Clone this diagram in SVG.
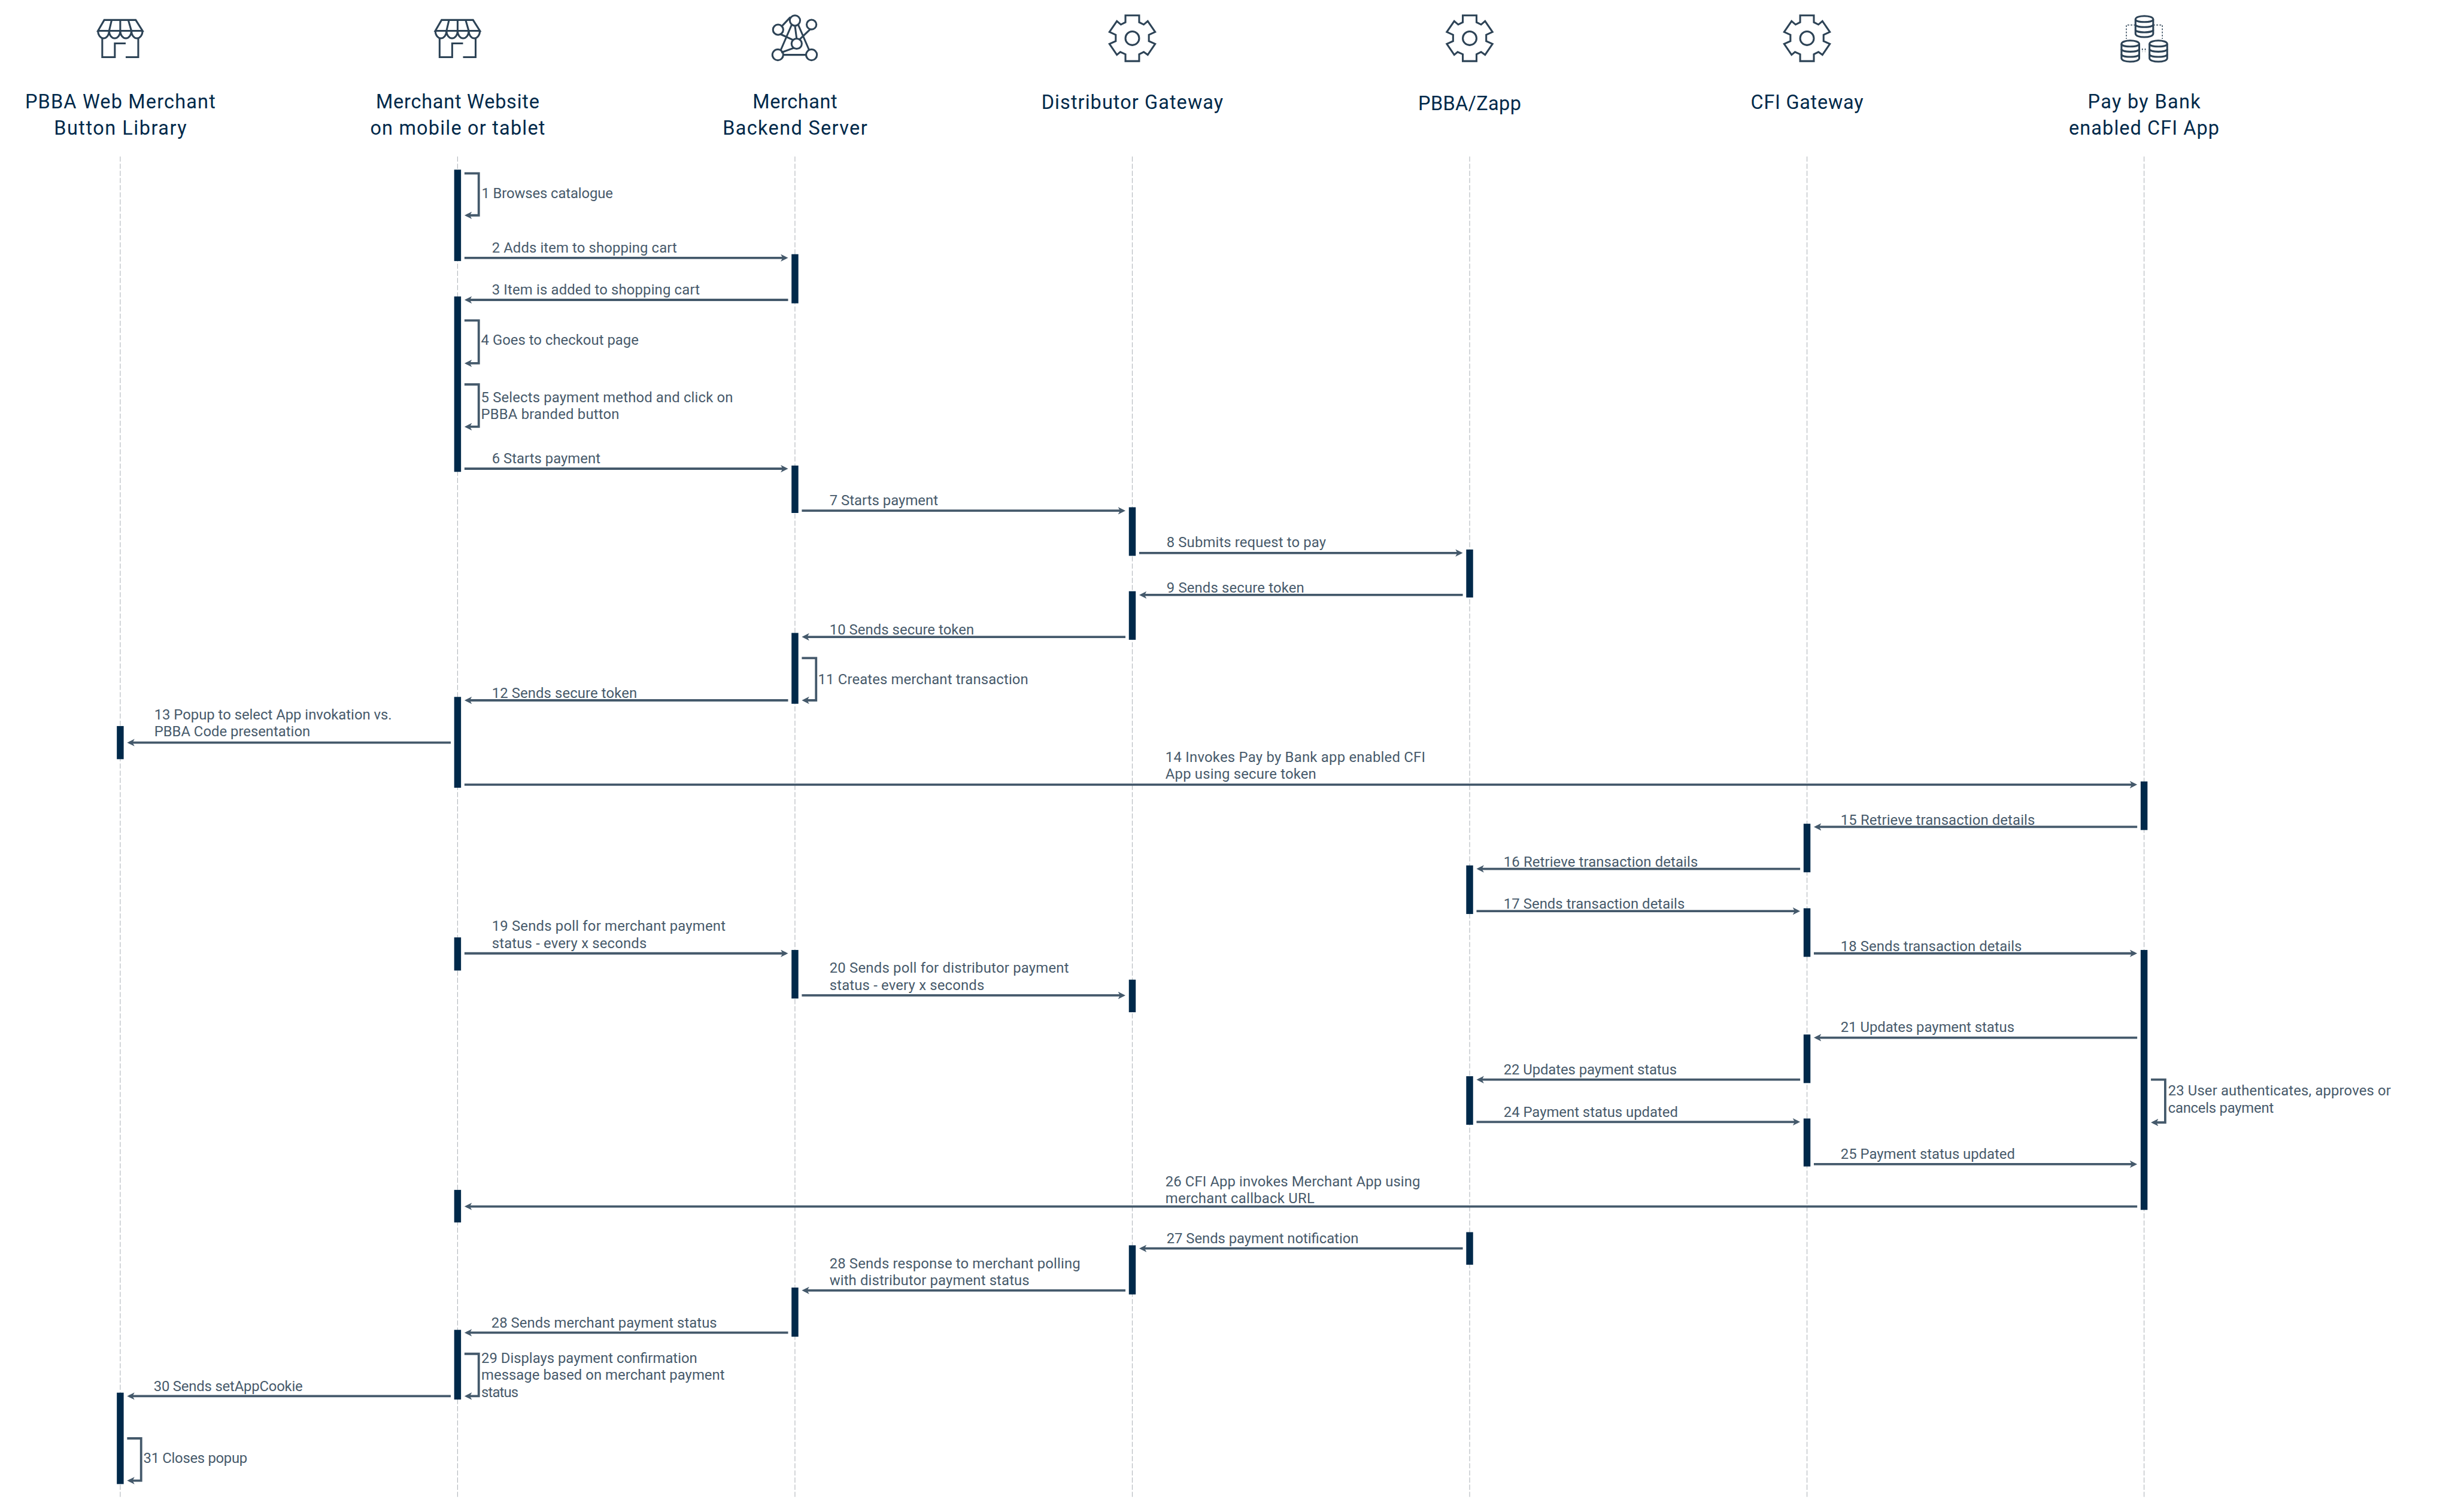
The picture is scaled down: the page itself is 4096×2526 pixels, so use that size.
<svg xmlns="http://www.w3.org/2000/svg" xmlns:xlink="http://www.w3.org/1999/xlink" width="4096" height="2526" viewBox="0 0 4096 2526">
<style>
.h{font-family:"Roboto","Liberation Sans",sans-serif;font-size:34px;fill:#00294a;text-anchor:middle}
.m{font-family:"Roboto","Liberation Sans",sans-serif;font-size:25px;fill:#475a6b}
.life{stroke:#b4b9be;stroke-width:1.2;stroke-dasharray:9 3.5;fill:none}
.bar{fill:#00294a}
.ln{stroke:#44596b;stroke-width:4;fill:none;marker-end:url(#ah)}
.ic{stroke:#2d4356;stroke-width:3.2;fill:none}
.dot{stroke:#2d4356;stroke-width:1.6;fill:none;stroke-dasharray:3 2.5}
</style>
<defs>
<marker id="ah" markerUnits="userSpaceOnUse" markerWidth="14" markerHeight="14" refX="9" refY="6.5" orient="auto"><path d="M0,0 L13,6.5 L0,13 L3.5,6.5 Z" fill="#44596b"/></marker>
<g id="store" class="ic"><path d="M-28,35 H27 L39,54 H-39 Z"/><path d="M-15,35 L-19.5,54 M0,35 V54 M14,35 L19.500,54"/><path d="M-39,54 a9.750,13 0 0 0 19.500,0 a9.750,13 0 0 0 19.500,0 a9.750,13 0 0 0 19.500,0 a9.750,13 0 0 0 19.500,0"/><path d="M-31.500,67 V100 H-9.500 V76 H9.500 M9.500,100 H31.500 V67"/></g>
<g id="gear" class="ic"><circle cx="0" cy="67" r="12"/><path transform="translate(0,67)" d="M-12,-40 H12 V-28 L20,-24 L27,-30 L40,-11 L29,-6 V5 L40,10 L27,29 L20,24 L12,28 V40 H-12 V28 L-21,24 L-27,29 L-40,10 L-29,5 V-6 L-40,-11 L-27,-30 L-20,-24 L-12,-28 Z"/></g>
<g id="cyl" class="ic"><path d="M-15.500,6 C-15.500,-2 15.500,-2 15.500,6 V31 C15.500,39 -15.500,39 -15.500,31 Z"/><path d="M-15.500,6 C-15.500,12 15.500,12 15.500,6 M-15.500,15 C-15.500,21 15.500,21 15.500,15 M-15.500,24 C-15.500,30 15.500,30 15.500,24"/></g>
</defs>
<rect width="4096" height="2526" fill="#ffffff"/>
<g transform="scale(0.95433)">
<g id="node-web-library">
<use href="#store" x="210.500" y="0"/>
<text class="h" x="210.500" y="190" textLength="333" lengthAdjust="spacing">PBBA Web Merchant</text>
<text class="h" x="210.500" y="236" textLength="232" lengthAdjust="spacing">Button Library</text>
<line class="life" x1="210.500" y1="274" x2="210.500" y2="2622"/>
</g>
<g id="node-merchant-website">
<use href="#store" x="801" y="0"/>
<text class="h" x="801" y="190" textLength="286" lengthAdjust="spacing">Merchant Website</text>
<text class="h" x="801" y="236" textLength="306" lengthAdjust="spacing">on mobile or tablet</text>
<line class="life" x1="801" y1="274" x2="801" y2="2622"/>
</g>
<g id="node-merchant-backend">
<g class="ic" transform="translate(1391.500,0)">
<path d="M-8,30 L-24,47 M-6,44 L-25,88 M6,44 L25,88 M0,45 L3,68 M-25,60 L-3,70 M-2,84 L-24,92 M27,51 L7,70 M-21,96 H20"/>
<circle cx="0" cy="36" r="9"/><circle cx="29" cy="43" r="8.500"/><circle cx="-29.500" cy="52" r="9"/><circle cx="3" cy="76.500" r="9"/><circle cx="-30" cy="96" r="9.500"/><circle cx="29" cy="96" r="9.500"/>
</g>
<text class="h" x="1391.500" y="190" textLength="148" lengthAdjust="spacing">Merchant</text>
<text class="h" x="1391.500" y="236" textLength="253" lengthAdjust="spacing">Backend Server</text>
<line class="life" x1="1391.500" y1="274" x2="1391.500" y2="2622"/>
</g>
<g id="node-distributor-gateway">
<use href="#gear" x="1982" y="0"/>
<text class="h" x="1982" y="190.500" textLength="318" lengthAdjust="spacing">Distributor Gateway</text>
<line class="life" x1="1982" y1="274" x2="1982" y2="2622"/>
</g>
<g id="node-pbba-zapp">
<use href="#gear" x="2572.500" y="0"/>
<text class="h" x="2572.500" y="192.500" textLength="180" lengthAdjust="spacing">PBBA/Zapp</text>
<line class="life" x1="2572.500" y1="274" x2="2572.500" y2="2622"/>
</g>
<g id="node-cfi-gateway">
<use href="#gear" x="3163" y="0"/>
<text class="h" x="3163" y="190.500" textLength="197" lengthAdjust="spacing">CFI Gateway</text>
<line class="life" x1="3163" y1="274" x2="3163" y2="2622"/>
</g>
<g id="node-cfi-app">
<use href="#cyl" x="3753.500" y="28"/>
<use href="#cyl" x="3729" y="71"/>
<use href="#cyl" x="3778" y="71"/>
<path class="dot" d="M3738,43.700 H3722 V68 M3769,43.700 H3785 V68 M3750,85 V91 M3755,85 V91"/>
<text class="h" x="3753" y="190" textLength="197" lengthAdjust="spacing">Pay by Bank</text>
<text class="h" x="3753" y="235.500" textLength="263" lengthAdjust="spacing">enabled CFI App</text>
<line class="life" x1="3753" y1="274" x2="3753" y2="2622"/>
</g>
<g id="activations">
<rect class="bar" x="204.500" y="1271" width="12" height="58"/>
<rect class="bar" x="204.500" y="2438" width="12" height="160"/>
<rect class="bar" x="795" y="297" width="12" height="160"/>
<rect class="bar" x="795" y="519" width="12" height="307"/>
<rect class="bar" x="795" y="1220" width="12" height="159"/>
<rect class="bar" x="795" y="1641" width="12" height="58"/>
<rect class="bar" x="795" y="2083" width="12" height="57"/>
<rect class="bar" x="795" y="2328" width="12" height="122"/>
<rect class="bar" x="1385.500" y="445" width="12" height="86"/>
<rect class="bar" x="1385.500" y="815" width="12" height="83"/>
<rect class="bar" x="1385.500" y="1108" width="12" height="124"/>
<rect class="bar" x="1385.500" y="1663" width="12" height="85"/>
<rect class="bar" x="1385.500" y="2254" width="12" height="86"/>
<rect class="bar" x="1976" y="888" width="12" height="85"/>
<rect class="bar" x="1976" y="1035" width="12" height="85"/>
<rect class="bar" x="1976" y="1715" width="12" height="57"/>
<rect class="bar" x="1976" y="2180" width="12" height="86"/>
<rect class="bar" x="2566.500" y="962" width="12" height="84"/>
<rect class="bar" x="2566.500" y="1515" width="12" height="85"/>
<rect class="bar" x="2566.500" y="1884" width="12" height="85"/>
<rect class="bar" x="2566.500" y="2157" width="12" height="57"/>
<rect class="bar" x="3157" y="1442" width="12" height="85"/>
<rect class="bar" x="3157" y="1590" width="12" height="85"/>
<rect class="bar" x="3157" y="1811" width="12" height="85"/>
<rect class="bar" x="3157" y="1958" width="12" height="84"/>
<rect class="bar" x="3747" y="1368" width="12" height="85"/>
<rect class="bar" x="3747" y="1663" width="12" height="455"/>
</g>
<g id="connectors">
<path class="ln" d="M813,303.500 H838 V377 H817"/>
<path class="ln" d="M813,451.400 H1375.500"/>
<path class="ln" d="M1379.500,525 H817"/>
<path class="ln" d="M813,561 H838 V636 H817"/>
<path class="ln" d="M813,673 H838 V747 H817"/>
<path class="ln" d="M813,820.500 H1375.500"/>
<path class="ln" d="M1403.500,894 H1966"/>
<path class="ln" d="M1994,968 H2556.500"/>
<path class="ln" d="M2560.500,1041.500 H1998"/>
<path class="ln" d="M1970,1115 H1407.500"/>
<path class="ln" d="M1403.500,1152 H1428.500 V1226 H1407.500"/>
<path class="ln" d="M1379.500,1226 H817"/>
<path class="ln" d="M789,1300 H226.500"/>
<path class="ln" d="M813,1373.600 H3737"/>
<path class="ln" d="M3741,1447.500 H3179"/>
<path class="ln" d="M3151,1521 H2588.500"/>
<path class="ln" d="M2584.500,1595 H3147"/>
<path class="ln" d="M3175,1669 H3737"/>
<path class="ln" d="M813,1669 H1375.500"/>
<path class="ln" d="M1403.500,1742.500 H1966"/>
<path class="ln" d="M3741,1816.500 H3179"/>
<path class="ln" d="M3151,1890 H2588.500"/>
<path class="ln" d="M3765,1890 H3790 V1965 H3769"/>
<path class="ln" d="M2584.500,1964 H3147"/>
<path class="ln" d="M3175,2038 H3737"/>
<path class="ln" d="M3741,2112 H817"/>
<path class="ln" d="M2560.500,2185.500 H1998"/>
<path class="ln" d="M1970,2259 H1407.500"/>
<path class="ln" d="M1379.500,2333 H817"/>
<path class="ln" d="M813,2370 H838 V2444 H817"/>
<path class="ln" d="M789,2444 H226.500"/>
<path class="ln" d="M222.500,2518 H247 V2592 H226.500"/>
</g>
<g id="connector-labels">
<text class="m" x="843" y="347" textLength="230">1 Browses catalogue</text>
<text class="m" x="861" y="442.500" textLength="324">2 Adds item to shopping cart</text>
<text class="m" x="861" y="516" textLength="364">3 Item is added to shopping cart</text>
<text class="m" x="842" y="604" textLength="276">4 Goes to checkout page</text>
<text class="m" x="842" y="704" textLength="441">5 Selects payment method and click on</text>
<text class="m" x="842" y="733.500" textLength="242">PBBA branded button</text>
<text class="m" x="861" y="811" textLength="190">6 Starts payment</text>
<text class="m" x="1452" y="884.500" textLength="190">7 Starts payment</text>
<text class="m" x="2042" y="958" textLength="279">8 Submits request to pay</text>
<text class="m" x="2042" y="1037.500" textLength="241">9 Sends secure token</text>
<text class="m" x="1452" y="1111" textLength="253">10 Sends secure token</text>
<text class="m" x="1432" y="1198" textLength="368">11 Creates merchant transaction</text>
<text class="m" x="861" y="1222" textLength="254">12 Sends secure token</text>
<text class="m" x="270" y="1260" textLength="416">13 Popup to select App invokation vs.</text>
<text class="m" x="270" y="1289" textLength="273">PBBA Code presentation</text>
<text class="m" x="2040" y="1333.500" textLength="455">14 Invokes Pay by Bank app enabled CFI</text>
<text class="m" x="2040" y="1363.500" textLength="264">App using secure token</text>
<text class="m" x="3222" y="1444" textLength="340">15 Retrieve transaction details</text>
<text class="m" x="2632" y="1517" textLength="340">16 Retrieve transaction details</text>
<text class="m" x="2632" y="1591" textLength="317">17 Sends transaction details</text>
<text class="m" x="3222" y="1665" textLength="317">18 Sends transaction details</text>
<text class="m" x="861" y="1629" textLength="409">19 Sends poll for merchant payment</text>
<text class="m" x="861" y="1659.500" textLength="271">status - every x seconds</text>
<text class="m" x="1452" y="1703" textLength="419">20 Sends poll for distributor payment</text>
<text class="m" x="1452" y="1733" textLength="271">status - every x seconds</text>
<text class="m" x="3222" y="1807" textLength="304">21 Updates payment status</text>
<text class="m" x="2632" y="1881" textLength="303">22 Updates payment status</text>
<text class="m" x="3795" y="1918" textLength="390">23 User authenticates, approves or</text>
<text class="m" x="3795" y="1948" textLength="185">cancels payment</text>
<text class="m" x="2632" y="1955" textLength="305">24 Payment status updated</text>
<text class="m" x="3222" y="2029" textLength="305">25 Payment status updated</text>
<text class="m" x="2040" y="2077" textLength="446">26 CFI App invokes Merchant App using</text>
<text class="m" x="2040" y="2106.500" textLength="261">merchant callback URL</text>
<text class="m" x="2042" y="2176.500" textLength="336">27 Sends payment notification</text>
<text class="m" x="1452" y="2220" textLength="439">28 Sends response to merchant polling</text>
<text class="m" x="1452" y="2250" textLength="350">with distributor payment status</text>
<text class="m" x="860" y="2324" textLength="395">28 Sends merchant payment status</text>
<text class="m" x="842.500" y="2385.500" textLength="378">29 Displays payment confirmation</text>
<text class="m" x="842.500" y="2415.500" textLength="426">message based on merchant payment</text>
<text class="m" x="842.500" y="2445.500" textLength="65">status</text>
<text class="m" x="269" y="2435" textLength="261">30 Sends setAppCookie</text>
<text class="m" x="251" y="2561" textLength="182">31 Closes popup</text>
</g>
</g>
</svg>
